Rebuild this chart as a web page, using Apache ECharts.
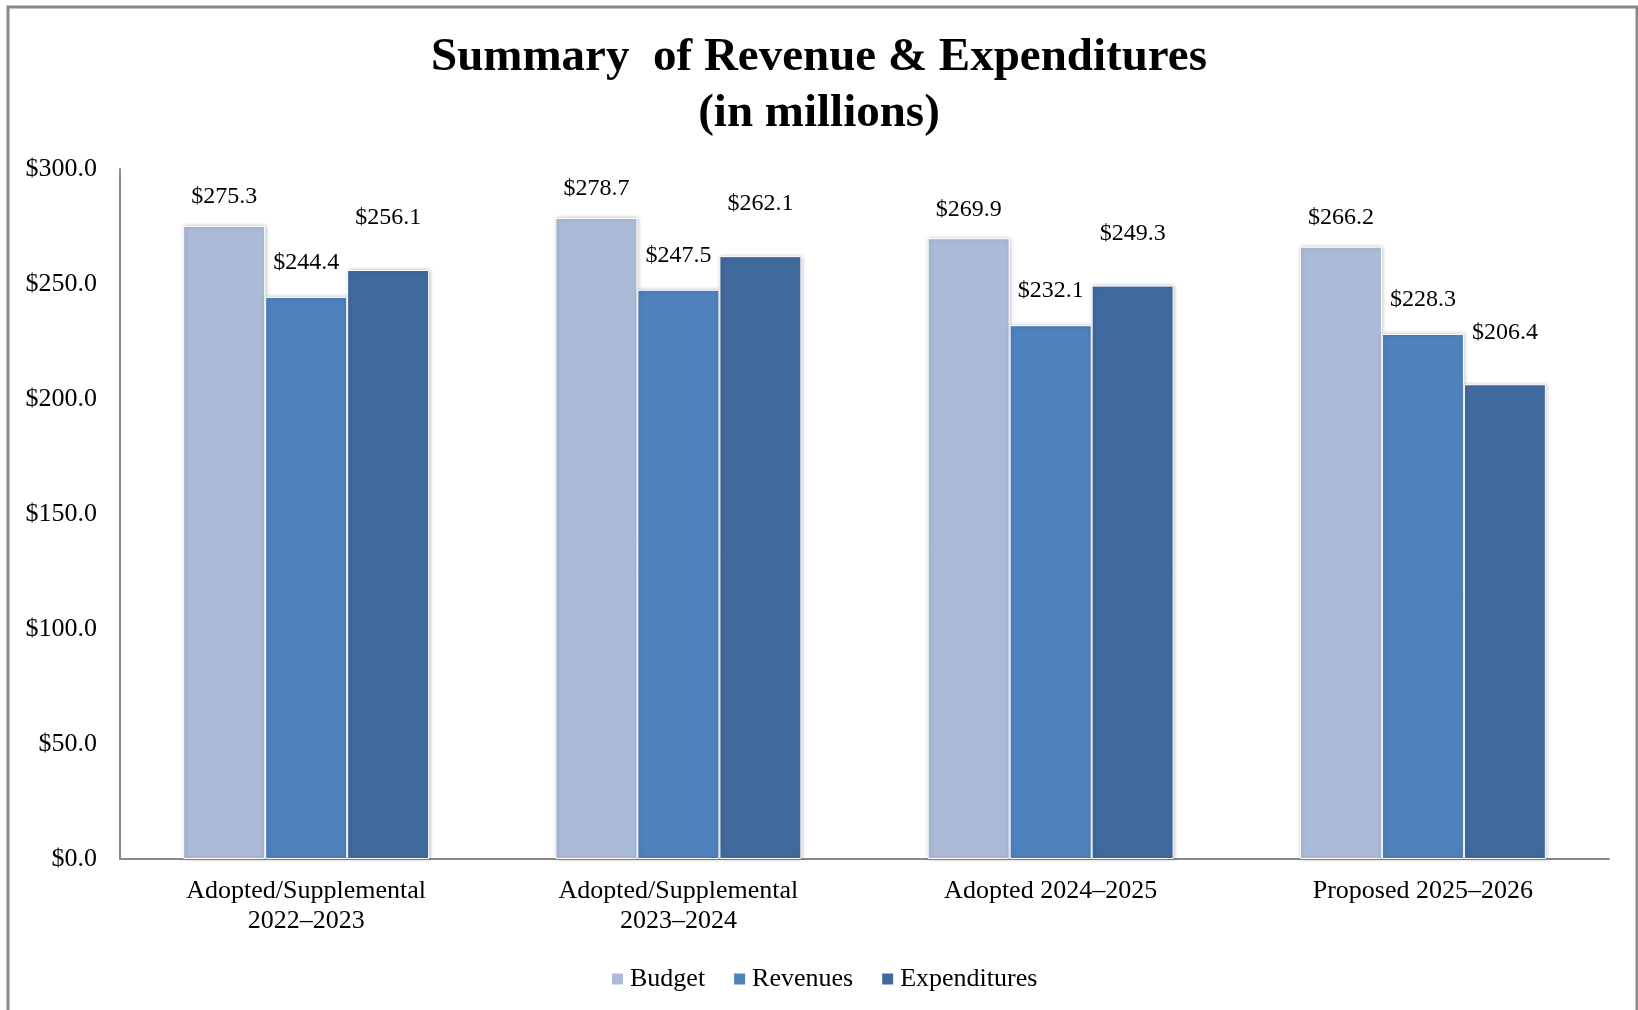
<!DOCTYPE html>
<html>
<head>
<meta charset="utf-8">
<title>Summary of Revenue & Expenditures</title>
<script src="https://cdn.jsdelivr.net/npm/echarts@6/dist/echarts.min.js"></script>
<style>
  html, body { margin: 0; padding: 0; background: #fff; }
  #chart { width: 1638px; height: 1010px; }
</style>
</head>
<body>
<div id="chart"></div>
<script>
const categories = [
  'Adopted/Supplemental\n2022–2023',
  'Adopted/Supplemental\n2023–2024',
  'Adopted 2024–2025',
  'Proposed 2025–2026'
]
const budget = [275.3, 278.7, 269.9, 266.2]
const revenues = [244.4, 247.5, 232.1, 228.3]
const expenditures = [256.1, 262.1, 249.3, 206.4]

const font = 'Liberation Serif, Times New Roman, serif'

const chart = echarts.init(document.getElementById('chart'))

const makeSeries = (name, data, color, dist) => ({
  name: name,
  type: 'bar',
  data: data,
  barWidth: 82,
  barGap: '0%',
  itemStyle: {
    color: color,
    borderColor: '#fff',
    borderWidth: 1,
    shadowBlur: 4,
    shadowColor: 'rgba(0,0,0,0.22)',
    shadowOffsetX: 1
  },
  label: {
    show: true,
    position: 'top',
    distance: dist,
    formatter: (p) => '$' + p.value.toFixed(1),
    color: '#000',
    fontFamily: font,
    fontSize: 24
  }
})

const option = {
  animation: false,
  backgroundColor: '#fff',
  title: {
    text: 'Summary  of Revenue & Expenditures\n(in millions)',
    left: 'center',
    top: 25,
    textStyle: {
      fontFamily: font,
      fontWeight: 'bold',
      fontSize: 47,
      lineHeight: 56,
      color: '#000'
    }
  },
  graphic: [
    {
      type: 'rect',
      shape: { x: 8, y: 7, width: 1629, height: 1030 },
      style: { fill: 'none', stroke: '#898989', lineWidth: 3 },
      silent: true
    }
  ],
  legend: {
    left: 605,
    top: 961,
    itemWidth: 13,
    itemHeight: 13,
    itemGap: 27,
    icon: 'rect',
    textStyle: { fontFamily: font, fontSize: 26, color: '#000', padding: [0, 0, 0, 1] },
    data: ['Budget', 'Revenues', 'Expenditures']
  },
  grid: {
    left: 120,
    right: 29,
    top: 169,
    bottom: 151,
    containLabel: false
  },
  xAxis: {
    type: 'category',
    data: categories,
    axisLine: { lineStyle: { color: '#898989', width: 2 } },
    axisTick: { show: false },
    axisLabel: {
      fontFamily: font,
      fontSize: 26,
      lineHeight: 30,
      color: '#000',
      margin: 17
    }
  },
  yAxis: {
    type: 'value',
    min: 0,
    max: 300,
    interval: 50,
    axisLine: { show: true, lineStyle: { color: '#898989', width: 2 } },
    axisTick: { show: false },
    splitLine: { show: false },
    axisLabel: {
      fontFamily: font,
      fontSize: 26,
      color: '#000',
      margin: 23,
      formatter: (v) => '$' + v.toFixed(1)
    }
  },
  series: [
    makeSeries('Budget', budget, '#ABBAD7', 17),
    makeSeries('Revenues', revenues, '#4F81BD', 22),
    makeSeries('Expenditures', expenditures, '#406A9D', 40)
  ]
}

chart.setOption(option)
</script>
</body>
</html>
